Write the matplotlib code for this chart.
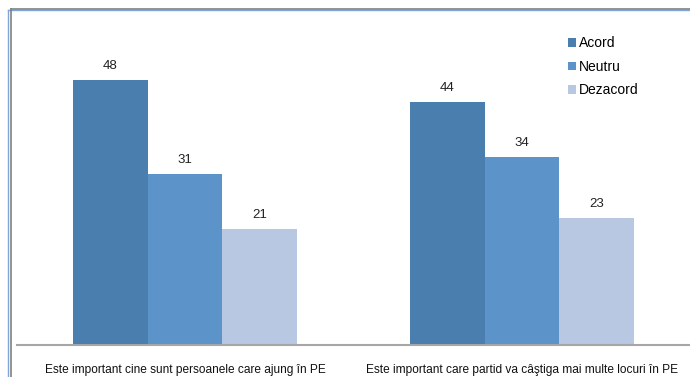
import numpy as np
import matplotlib.pyplot as plt
from matplotlib.lines import Line2D

plt.rcParams['font.family'] = ['Liberation Sans', 'DejaVu Sans']

categories = ["Este important cine sunt persoanele care ajung în PE",
              "Este important care partid va câştiga mai multe locuri în PE"]
series = ["Acord", "Neutru", "Dezacord"]
acord = [48, 44]
neutru = [31, 34]
dezacord = [21, 23]
colors = ["#4A7EAF", "#5C93C8", "#B8C8E3"]

W, H = 690, 377
fig = plt.figure(figsize=(W / 100, H / 100), dpi=100)

# plot area in pixel terms: left 16.5, right 690.5, baseline at 345
left, right, bottom, top = 16.5, 690.5, 345, 14
ax = fig.add_axes([left / W, 1 - bottom / H, (right - left) / W, (bottom - top) / H])

x = np.arange(len(categories))
width = 0.2225
for i, (vals, name) in enumerate(zip([acord, neutru, dezacord], series)):
    pos = x + (i - 1) * width
    bars = ax.bar(pos, vals, width, color=colors[i], label=name)
    for b, v in zip(bars, vals):
        ax.annotate(str(v), (b.get_x() + b.get_width() / 2, v),
                    xytext=(0, 6), textcoords="offset points",
                    ha="center", va="bottom", fontsize=9.5, color="#222222")

ax.set_xlim(-0.5, len(categories) - 0.5)
ax.set_ylim(0, 60)
ax.set_yticks([])
ax.set_xticks(x)
ax.set_xticklabels(categories, fontsize=8.6, color="#111111")
ax.tick_params(axis="x", length=0, pad=14)
for s in ["top", "right", "left"]:
    ax.spines[s].set_visible(False)
ax.spines["bottom"].set_color("#A6A6A6")
ax.spines["bottom"].set_linewidth(1.5)

leg = ax.legend(loc="upper left", bbox_to_anchor=(0.8, 0.97), frameon=False,
                fontsize=10, handlelength=0.55, handleheight=0.55,
                handletextpad=0.25, labelspacing=0.68)

# double border around the chart
def fig_line(xs, ys, color, lw):
    fig.add_artist(Line2D([v / W for v in xs], [1 - v / H for v in ys],
                          color=color, lw=lw, transform=fig.transFigure))

fig_line([8, 8], [10, H + 5], "#7FA6D6", 1.0)
fig_line([8, W + 5], [10, 10], "#7FA6D6", 1.0)
fig_line([10.5, 10.5], [8.5, H + 5], "#808080", 1.2)
fig_line([10.5, W + 5], [8.5, 8.5], "#808080", 1.2)

fig.savefig("out.png", dpi=100)
